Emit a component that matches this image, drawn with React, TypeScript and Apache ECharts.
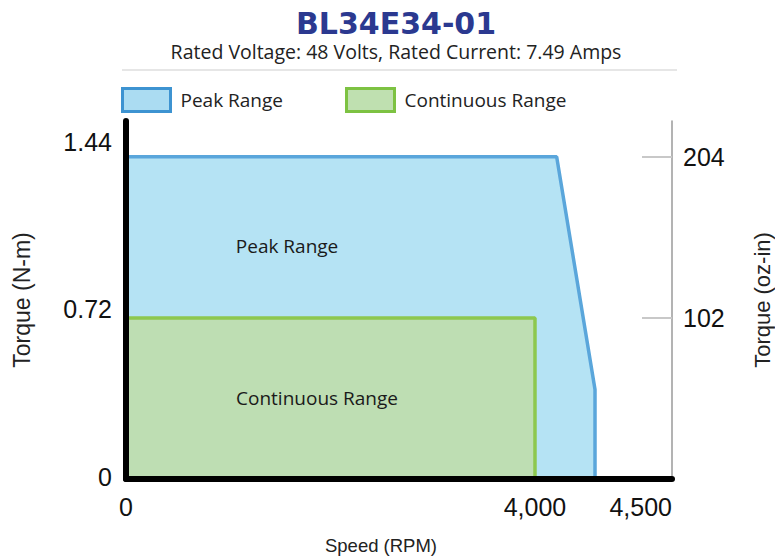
import React, { useEffect, useRef } from "react";
import * as echarts from "echarts";

// ---- data ----
const TITLE = "BL34E34-01";
const SUBTITLE = "Rated Voltage: 48 Volts, Rated Current: 7.49 Amps";
const PEAK_NAME = "Peak Range";
const CONT_NAME = "Continuous Range";

const PEAK_SPEED = [0, 4212, 4587, 4587];
const PEAK_TORQUE = [1.44, 1.44, 0.4, 0];
const CONT_SPEED = [0, 4000, 4000];
const CONT_TORQUE = [0.72, 0.72, 0];

const PEAK_LABEL_POS = [1575, 1.04];
const CONT_LABEL_POS = [1868, 0.363];

const NM_TICKS = [0, 0.72, 1.44];
const OZIN_TICKS = [102, 204];
const NM_TO_OZIN = 204 / 1.44;
const Y_MAX_NM = 1.6;

const X_AXIS_END = 5340;
const X_TICK_VALUES = [0, 4000, X_AXIS_END];
const X_TICK_LABELS = ["0", "4,000", "4,500"];

const FONT = "Open Sans";
const AXIS_FONT = "Liberation Sans";

export default function App() {
  const ref = useRef<HTMLDivElement>(null);
  useEffect(() => {
    document.body.style.margin = "0";
    if (!ref.current) return;
    const chart = echarts.init(ref.current, undefined, { renderer: "svg" });
    const peakData = PEAK_SPEED.map((s, i) => [s, PEAK_TORQUE[i]]);
    const contData = CONT_SPEED.map((s, i) => [s, CONT_TORQUE[i]]);
    const legendText = { fontSize: 19, color: "#222", fontFamily: FONT, padding: [0, 0, 0, 5] };
    const leftRich = {
      t0: { fontSize: 25, fontFamily: AXIS_FONT, color: "#111", padding: [0, 0, 4, 0] },
      t1: { fontSize: 25, fontFamily: AXIS_FONT, color: "#111", padding: [0, 0, 18, 0] },
      t2: { fontSize: 25, fontFamily: AXIS_FONT, color: "#111", padding: [0, 0, 30, 0] },
    };
    chart.setOption({
      animation: false,
      textStyle: { fontFamily: FONT },
      title: {
        text: TITLE,
        subtext: SUBTITLE,
        left: 391,
        textAlign: "center",
        top: 3,
        itemGap: 3,
        textStyle: { fontSize: 30, fontWeight: "bold", color: "#2b3990", fontFamily: "DejaVu Sans" },
        subtextStyle: { fontSize: 19.5, color: "#222", fontFamily: FONT },
      },
      graphic: [
        {
          type: "line",
          shape: { x1: 122, y1: 70, x2: 677, y2: 70 },
          style: { stroke: "#e6e6e6", lineWidth: 2 },
        },
      ],
      legend: [
        {
          left: 116,
          top: 82,
          itemWidth: 48,
          itemHeight: 23,
          textStyle: legendText,
          data: [
            {
              name: PEAK_NAME,
              icon: "rect",
              itemStyle: { color: "#abdcf2", borderColor: "#3d93d1", borderWidth: 3 },
            },
          ],
        },
        {
          left: 340,
          top: 82,
          itemWidth: 48,
          itemHeight: 23,
          textStyle: legendText,
          data: [
            {
              name: CONT_NAME,
              icon: "rect",
              itemStyle: { color: "#bfe0b0", borderColor: "#7dc242", borderWidth: 3 },
            },
          ],
        },
      ],
      grid: { left: 126, right: 103, top: 121, bottom: 78, containLabel: false, outerBoundsMode: "none" },
      xAxis: {
        type: "value",
        min: 0,
        max: X_AXIS_END,
        z: 10,
        name: "Speed (RPM)",
        nameLocation: "middle",
        nameGap: 57,
        nameTextStyle: { fontSize: 18.5, color: "#222", fontFamily: AXIS_FONT, padding: [0, 36, 0, 0] },
        axisLine: { show: true, lineStyle: { color: "#000", width: 6 } },
        axisTick: { show: false },
        splitLine: { show: false },
        axisLabel: {
          customValues: X_TICK_VALUES,
          margin: 15,
          fontSize: 25,
          fontFamily: AXIS_FONT,
          color: "#111",
          alignMaxLabel: "right",
          formatter: (v: number) => {
            const i = X_TICK_VALUES.indexOf(v);
            return i >= 0 ? X_TICK_LABELS[i] : "";
          },
        },
      },
      yAxis: [
        {
          type: "value",
          min: 0,
          max: Y_MAX_NM,
          z: 10,
          position: "left",
          name: "Torque (N-m)",
          nameLocation: "middle",
          nameRotate: 90,
          nameGap: 93,
          nameTextStyle: { fontSize: 23, color: "#222", fontFamily: AXIS_FONT },
          axisLine: { show: true, lineStyle: { color: "#000", width: 6 } },
          axisTick: { show: false },
          splitLine: { show: false },
          axisLabel: {
            customValues: NM_TICKS,
            margin: 14,
            fontSize: 25,
            fontFamily: AXIS_FONT,
            color: "#111",
            rich: leftRich,
            formatter: (v: number) => {
              const i = NM_TICKS.indexOf(v);
              return `{t${i < 0 ? 0 : i}|${v}}`;
            },
          },
        },
        {
          type: "value",
          min: 0,
          max: Y_MAX_NM * NM_TO_OZIN,
          position: "right",
          name: "Torque (oz-in)",
          nameLocation: "middle",
          nameRotate: 90,
          nameGap: 79,
          nameTextStyle: { fontSize: 22, color: "#222", fontFamily: AXIS_FONT },
          axisLine: { show: true, lineStyle: { color: "#9a9a9a", width: 1.5 } },
          axisTick: {
            show: true,
            inside: true,
            length: 30,
            customValues: OZIN_TICKS,
            lineStyle: { color: "#c8c8c8", width: 2 },
          },
          splitLine: { show: false },
          axisLabel: {
            customValues: OZIN_TICKS,
            margin: 11,
            fontSize: 25,
            fontFamily: AXIS_FONT,
            color: "#111",
          },
        },
      ],
      series: [
        {
          name: PEAK_NAME,
          type: "line",
          data: peakData,
          showSymbol: false,
          symbol: "none",
          lineStyle: { color: "#5aa6db", width: 3.5 },
          itemStyle: { color: "#abdcf2", borderColor: "#3d93d1" },
          areaStyle: { color: "#b5e3f4", opacity: 1 },
          z: 2,
          markPoint: {
            symbol: "circle",
            symbolSize: 1,
            itemStyle: { color: "rgba(0,0,0,0)" },
            label: { show: true, position: "inside", formatter: PEAK_NAME, fontSize: 19, color: "#1a1a1a", fontFamily: FONT },
            data: [{ coord: PEAK_LABEL_POS }],
          },
        },
        {
          name: CONT_NAME,
          type: "line",
          data: contData,
          showSymbol: false,
          symbol: "none",
          lineStyle: { color: "#8dc84f", width: 3.5 },
          itemStyle: { color: "#bfe0b0", borderColor: "#7dc242" },
          areaStyle: { color: "#bedeb3", opacity: 1 },
          z: 3,
          markPoint: {
            symbol: "circle",
            symbolSize: 1,
            itemStyle: { color: "rgba(0,0,0,0)" },
            label: { show: true, position: "inside", formatter: CONT_NAME, fontSize: 19, color: "#1a1a1a", fontFamily: FONT },
            data: [{ coord: CONT_LABEL_POS }],
          },
        },
      ],
    });
    return () => chart.dispose();
  }, []);
  return <div ref={ref} style={{ width: 775, height: 557 }} />;
}
